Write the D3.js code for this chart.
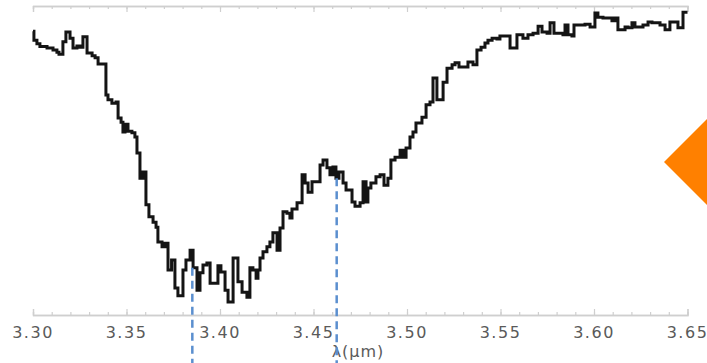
<!DOCTYPE html>
<html>
<head>
<meta charset="utf-8">
<script src="https://cdn.jsdelivr.net/npm/d3@7"></script>
<style>
  html, body { margin: 0; padding: 0; background: #fff; }
  svg { display: block; }
</style>
</head>
<body>
<svg id="chart" width="707" height="363"></svg>
<script>
// ---- data ----
const wavelength = [
  3.3000, 3.3005, 3.3021, 3.3037, 3.3075, 3.3107, 3.3128, 3.3139, 3.3160, 3.3176,
  3.3198, 3.3214, 3.3235, 3.3251, 3.3267, 3.3289, 3.3316, 3.3332, 3.3348, 3.3390,
  3.3401, 3.3422, 3.3444, 3.3455, 3.3471, 3.3481, 3.3492, 3.3508, 3.3529, 3.3545,
  3.3556, 3.3572, 3.3588, 3.3604, 3.3620, 3.3642, 3.3658, 3.3668, 3.3690, 3.3706,
  3.3722, 3.3741, 3.3759, 3.3775, 3.3802, 3.3818, 3.3840, 3.3856, 3.3877, 3.3893,
  3.3909, 3.3930, 3.3947, 3.3989, 3.4005, 3.4027, 3.4043, 3.4070, 3.4096, 3.4118,
  3.4144, 3.4160, 3.4176, 3.4193, 3.4203, 3.4214, 3.4230, 3.4251, 3.4267, 3.4283,
  3.4305, 3.4321, 3.4337, 3.4358, 3.4374, 3.4385, 3.4412, 3.4439, 3.4455, 3.4471,
  3.4492, 3.4535, 3.4551, 3.4572, 3.4588, 3.4604, 3.4620, 3.4636, 3.4658, 3.4674,
  3.4706, 3.4722, 3.4749, 3.4765, 3.4781, 3.4791, 3.4807, 3.4834, 3.4856, 3.4877,
  3.4898, 3.4914, 3.4936, 3.4963, 3.4979, 3.4995, 3.5016, 3.5032, 3.5048, 3.5080,
  3.5102, 3.5123, 3.5139, 3.5160, 3.5193, 3.5214, 3.5241, 3.5257, 3.5278, 3.5326,
  3.5353, 3.5374, 3.5396, 3.5417, 3.5433, 3.5455, 3.5481, 3.5497, 3.5551, 3.5588,
  3.5620, 3.5647, 3.5674, 3.5701, 3.5722, 3.5749, 3.5765, 3.5786, 3.5834, 3.5845,
  3.5861, 3.5882, 3.5893, 3.5952, 3.5979, 3.6005, 3.6021, 3.6048, 3.6096, 3.6112,
  3.6128, 3.6166, 3.6182, 3.6203, 3.6219, 3.6262, 3.6289, 3.6310, 3.6353, 3.6380,
  3.6406, 3.6449, 3.6476, 3.6500
];
const flux = [
  0.984, 0.971, 0.966, 0.962, 0.960, 0.957, 0.954, 0.951, 0.969, 0.983,
  0.974, 0.960, 0.963, 0.961, 0.976, 0.953, 0.949, 0.946, 0.937, 0.893,
  0.886, 0.881, 0.883, 0.860, 0.854, 0.840, 0.851, 0.841, 0.839, 0.833,
  0.810, 0.774, 0.783, 0.736, 0.719, 0.711, 0.704, 0.683, 0.676, 0.681,
  0.643, 0.657, 0.617, 0.606, 0.643, 0.657, 0.671, 0.646, 0.614, 0.639,
  0.650, 0.653, 0.624, 0.649, 0.640, 0.614, 0.597, 0.660, 0.626, 0.611,
  0.604, 0.646, 0.643, 0.631, 0.643, 0.660, 0.669, 0.676, 0.683, 0.696,
  0.671, 0.703, 0.726, 0.724, 0.717, 0.730, 0.739, 0.779, 0.767, 0.754,
  0.769, 0.793, 0.800, 0.789, 0.779, 0.790, 0.774, 0.783, 0.767, 0.757,
  0.740, 0.734, 0.739, 0.769, 0.740, 0.760, 0.767, 0.776, 0.779, 0.764,
  0.774, 0.800, 0.804, 0.814, 0.804, 0.817, 0.833, 0.840, 0.853, 0.861,
  0.879, 0.883, 0.917, 0.886, 0.911, 0.931, 0.936, 0.939, 0.933, 0.940,
  0.936, 0.957, 0.961, 0.967, 0.971, 0.974, 0.973, 0.977, 0.960, 0.979,
  0.974, 0.979, 0.981, 0.991, 0.983, 0.981, 0.996, 0.981, 0.979, 0.993,
  0.979, 0.977, 0.993, 0.994, 0.990, 1.010, 1.004, 1.003, 0.999, 1.003,
  0.986, 0.990, 0.989, 0.996, 0.990, 0.993, 0.997, 0.996, 0.993, 0.986,
  0.997, 0.989, 1.011, 1.011
];
const markerLambda = [3.3852, 3.4624];
const markerFlux = [0.646, 0.774];
const tickLabels = ["3.30", "3.35", "3.40", "3.45", "3.50", "3.55", "3.60", "3.65"];
const majorTicks = tickLabels.map(Number);
const xLabel = "λ(μm)";

// ---- layout ----
const W = 707, H = 363;
const mLeft = 33, mRight = 687.5, axTop = 6, axBottom = 315;
const svg = d3.select("#chart");

const x = d3.scaleLinear().domain([3.30, 3.65]).range([mLeft, mRight]);
const y = d3.scaleLinear().domain([0.60, 1.00]).range([300, 20]);

const minorTicks = d3.range(0, 36).map(i => +(3.30 + i * 0.01).toFixed(2));
const axisColor = "#cfcfcf";

const gB = svg.append("g").attr("transform", `translate(0,${axBottom})`)
  .call(d3.axisTop(x).tickValues(minorTicks).tickSize(3).tickFormat(""));
const gBM = svg.append("g").attr("transform", `translate(0,${axBottom})`)
  .call(d3.axisTop(x).tickValues(majorTicks).tickSize(6).tickFormat(""));
const gT = svg.append("g").attr("transform", `translate(0,${axTop})`)
  .call(d3.axisBottom(x).tickValues(minorTicks).tickSize(3).tickFormat(""));
const gTM = svg.append("g").attr("transform", `translate(0,${axTop})`)
  .call(d3.axisBottom(x).tickValues(majorTicks).tickSize(6).tickFormat(""));
[gB, gBM, gT, gTM].forEach(g => {
  g.selectAll("path").attr("stroke", axisColor).attr("stroke-width", 1.3);
  g.selectAll("line").attr("stroke", axisColor).attr("stroke-width", 1.2);
});

// tick labels
svg.append("g").selectAll("text").data(tickLabels).join("text")
  .attr("x", d => x(+d))
  .attr("y", 338)
  .attr("text-anchor", "middle")
  .attr("font-family", "DejaVu Sans, sans-serif")
  .attr("font-size", 16)
  .attr("letter-spacing", 1.5)
  .attr("fill", "#5a5a5a")
  .text(d => d);

svg.append("text")
  .attr("x", 358).attr("y", 357)
  .attr("text-anchor", "middle")
  .attr("font-family", "DejaVu Sans, sans-serif")
  .attr("font-size", 16)
  .attr("letter-spacing", 1)
  .attr("fill", "#5a5a5a")
  .text(xLabel);

// spectrum
const pts = wavelength.map((w, i) => [w, flux[i]]);
const line = d3.line().x(d => x(d[0])).y(d => y(d[1])).curve(d3.curveStepAfter);
svg.append("path")
  .attr("d", line(pts))
  .attr("fill", "none")
  .attr("stroke", "#141414")
  .attr("stroke-width", 3)
  .attr("stroke-linejoin", "miter");

// dashed markers
svg.append("g").selectAll("line").data(markerLambda).join("line")
  .attr("x1", d => x(d)).attr("x2", d => x(d))
  .attr("y1", (d, i) => y(markerFlux[i]))
  .attr("y2", H)
  .attr("stroke", "#5b8fcf")
  .attr("stroke-width", 2.5)
  .attr("stroke-dasharray", "8,5");

// orange diamond (partially off-canvas)
svg.append("path")
  .attr("d", d3.symbol().type(d3.symbolSquare).size(3700)())
  .attr("transform", "translate(707,162) rotate(45)")
  .attr("fill", "#ff8000");
</script>
</body>
</html>
